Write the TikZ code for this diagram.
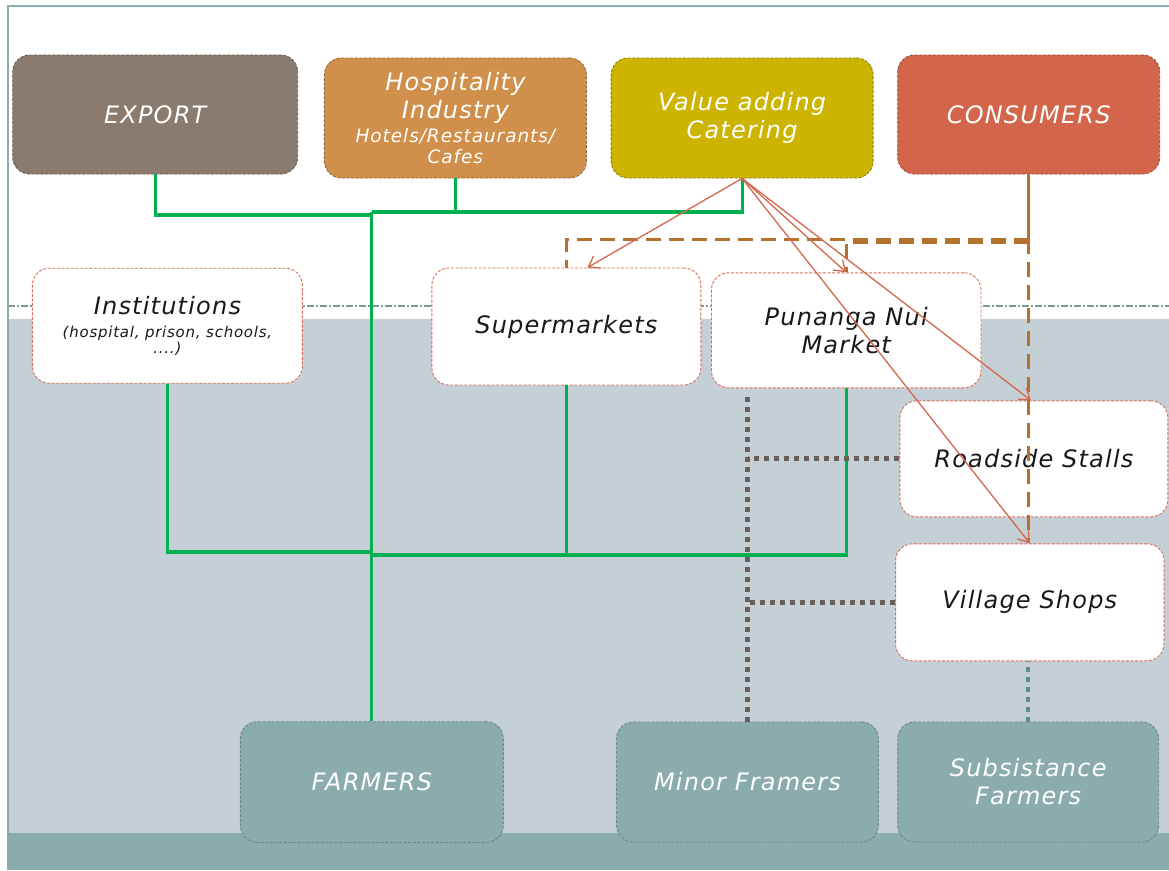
\documentclass[tikz,border=0pt]{standalone}
\usepackage{fontspec}
\setmainfont{DejaVu Sans}[LetterSpace=5]
\usetikzlibrary{arrows.meta}

\definecolor{exportc}{HTML}{8B7A6E}
\definecolor{hospc}{HTML}{D08F4A}
\definecolor{valuec}{HTML}{CCB400}
\definecolor{consc}{HTML}{D2654A}
\definecolor{farmc}{HTML}{8AACAD}
\definecolor{farmedge}{HTML}{6E8486}
\definecolor{midedge}{HTML}{DA6E55}
\definecolor{bggray}{HTML}{C5D0D6}
\definecolor{framec}{HTML}{8AACAD}
\definecolor{sepc}{HTML}{7C9999}
\definecolor{linkgreen}{HTML}{00B050}
\definecolor{linkbrown}{HTML}{B3712E}
\definecolor{linkred}{HTML}{D4684C}
\definecolor{linkgray}{HTML}{6A5D57}
\definecolor{linkteal}{HTML}{5E8B8D}

\tikzset{
  wh/.style 2 args={minimum width=#1pt,minimum height=#2pt},
  basebox/.style={rounded corners=17pt,inner sep=0pt,align=center,
    line width=0.9pt,dash pattern=on 3pt off 1.6pt,
    font=\fontsize{24}{28}\selectfont\itshape},
  topbox/.style={basebox,fill=#1,draw=#1!72!black,text=white},
  midbox/.style={basebox,fill=white,draw=midedge,text=black!90},
  lowbox/.style={basebox,fill=farmc,draw=farmedge,text=white},
  greenlink/.style={draw=linkgreen,line width=3.2pt},
  brownlink/.style={draw=linkbrown,line width=3pt},
  brownbroken/.style={brownlink,dash pattern=on 15pt off 8pt},
  redlink/.style={draw=linkred,line width=1.3pt,
    -{Straight Barb[length=10pt,width=14pt,line width=1.3pt]}},
  graylink/.style={draw=linkgray,line width=4.8pt,dash pattern=on 5pt off 5pt},
  teallink/.style={draw=linkteal,line width=4.2pt,dash pattern=on 5pt off 5pt}
}

\begin{document}
\begin{tikzpicture}[x=1pt,y=-1pt]
\useasboundingbox (0,0) rectangle (1169,870);
\fill[white] (0,0) rectangle (1169,870);

% background panels and frame
\fill[bggray] (8,319) rectangle (1169,833);
\fill[farmc] (8,833) rectangle (1169,870);
\draw[framec,line width=1.3pt] (1169,6) -- (8,6) -- (8,870);
\draw[sepc,line width=2pt,dash pattern=on 7pt off 2pt on 2pt off 2pt] (8,306) -- (1169,306);

% top row
\node[topbox=exportc,wh={285}{119}] (export) at (155.2,114.5) {EXPORT};
\node[topbox=hospc,wh={262}{120}] (hosp) at (455.4,118)
  {Hospitality\\Industry\\[-4pt]{\fontsize{18.5}{21}\selectfont Hotels/Restaurants/}\\[-7pt]{\fontsize{18.5}{21}\selectfont Cafes}};
\node[topbox=valuec,wh={262}{120}] (value) at (742.1,118) {Value adding\\Catering};
\node[topbox=consc,wh={262}{119}] (consumers) at (1028.7,114.5) {CONSUMERS};

% retail row
\node[midbox,wh={270}{115}] (inst) at (167.4,325.7)
  {Institutions\\[-5pt]{\fontsize{15}{16}\selectfont (hospital, prison, schools,}\\[-11.7pt]{\fontsize{15}{16}\selectfont ....)}};
\node[midbox,wh={269}{117}] (super) at (566.4,326.5) {Supermarkets};
\node[midbox,wh={269.5}{115}] (punanga) at (846.2,330.3) {Punanga Nui\\Market};
\node[midbox,wh={268}{116}] (roadside) at (1033.9,458.8) {Roadside Stalls};
\node[midbox,wh={268.5}{117}] (village) at (1029.8,602.3) {Village Shops};

% producers
\node[lowbox,wh={263}{120.6}] (farmers) at (371.8,782) {FARMERS};
\node[lowbox,wh={262}{120}] (minor) at (747.5,782) {Minor Framers};
\node[lowbox,wh={261}{120}] (subsist) at (1028.2,782) {Subsistance\\Farmers};

% green supply links to the farmers
\coordinate (g1) at (farmers.north |- 0,215);
\coordinate (g2) at (farmers.north |- 0,212);
\coordinate (g3) at (farmers.north |- 0,552);
\coordinate (g4) at (farmers.north |- 0,555);
\draw[greenlink] (export.south) |- (g1);
\draw[greenlink] (value.south) |- (g2);
\draw[greenlink] (hosp.south) -- (hosp.south |- g2);
\draw[greenlink] (g2) -- (farmers.north);
\draw[greenlink] (inst.south) |- (g3);
\draw[greenlink] (punanga.south) |- (g4);
\draw[greenlink] (super.south) -- (super.south |- g4);

% minor and subsistence farmer links
\coordinate (mtop) at (minor.north |- 0,396);
\draw[graylink] (minor.north) -- (mtop);
\draw[graylink] (roadside.west) -- (roadside.west -| minor.north);
\draw[graylink] (village.west) -- (village.west -| minor.north);
\draw[teallink] (subsist.north) -- (subsist.north |- village.south);

% consumer links
\coordinate (cj) at (consumers.south |- 0,239);
\draw[brownlink] (consumers.south) -- (cj);
\draw[brownbroken] (cj) -| (super.north);
\draw[brownbroken] (consumers.south |- 0,242) -| (punanga.north);
\draw[brownbroken] (cj) -- (cj |- village.north);

% value adding links
\draw[redlink] (value.south) -- ([xshift=21pt]super.north);
\draw[redlink] (value.south) -- (punanga.north);
\draw[redlink] (value.south) -- ([xshift=-3pt]roadside.north);
\draw[redlink] (value.south) -- (village.north);
\end{tikzpicture}
\end{document}
